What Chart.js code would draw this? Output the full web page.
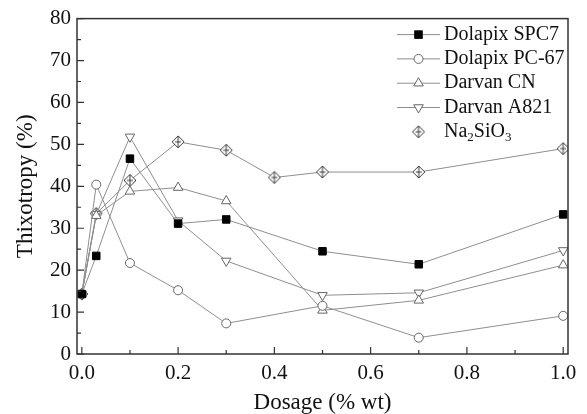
<!DOCTYPE html>
<html>
<head>
<meta charset="utf-8">
<script src="https://cdn.jsdelivr.net/npm/chart.js@4.4.1/dist/chart.umd.min.js"></script>
<style>
  html, body { margin: 0; padding: 0; background: #fff; }
  #wrap { width: 587px; height: 414px; }
</style>
</head>
<body>
<div id="wrap"><canvas id="thixoChart" width="587" height="414"></canvas></div>
<script>
// dosage (% wt) and thixotropy (%) per dispersant
const dosage = [0, 0.03, 0.1, 0.2, 0.3, 0.5, 0.7, 1.0];
const dosageNa = [0, 0.03, 0.1, 0.2, 0.3, 0.4, 0.5, 0.7, 1.0];
const spc7 = [14.3, 23.4, 46.6, 31.1, 32.1, 24.5, 21.4, 33.3];
const pc67 = [14.3, 40.4, 21.7, 15.2, 7.3, 11.5, 3.9, 9.1];
const darvanCN = [14.3, 33.0, 38.8, 39.7, 36.5, 10.4, 12.8, 21.2];
const darvanA821 = [14.3, 33.3, 51.8, 31.8, 22.2, 14.0, 14.6, 24.7];
const na2sio3 = [14.3, 33.5, 41.4, 50.6, 48.6, 42.1, 43.4, 43.4, 49.0];

const seriesNames = ["Dolapix SPC7", "Dolapix PC-67", "Darvan CN", "Darvan A821", "Na2SiO3"];
const xTicks = [0, 0.2, 0.4, 0.6, 0.8, 1.0];
const yTicks = [0, 10, 20, 30, 40, 50, 60, 70, 80];

const SERIF = "'Liberation Serif', 'Times New Roman', serif";
const LINE = "#8e8e8e";

// diamond with a cross inside, used for the sodium silicate points
function diamondCross(size, color) {
  const c = document.createElement("canvas");
  c.width = size; c.height = size;
  const g = c.getContext("2d");
  const m = size / 2, r = size / 2 - 1;
  g.strokeStyle = color;
  g.lineWidth = 1;
  g.fillStyle = "#fff";
  g.beginPath();
  g.moveTo(m, m - r); g.lineTo(m + r, m); g.lineTo(m, m + r); g.lineTo(m - r, m);
  g.closePath();
  g.fill(); g.stroke();
  g.beginPath();
  g.moveTo(m, m - r); g.lineTo(m, m + r);
  g.moveTo(m - r * 0.5, m); g.lineTo(m + r * 0.5, m);
  g.stroke();
  return c;
}
const naMarker = diamondCross(14, "#3a3a3a");

function toPoints(xs, ys) {
  return xs.map((x, i) => ({ x: x, y: ys[i] }));
}

const datasets = [
  { label: seriesNames[0], data: toPoints(dosage, spc7), borderColor: LINE, borderWidth: 1,
    pointStyle: "rect", pointRadius: 5.3, pointBackgroundColor: "#000", pointBorderColor: "#000", pointBorderWidth: 1 },
  { label: seriesNames[1], data: toPoints(dosage, pc67), borderColor: LINE, borderWidth: 1,
    pointStyle: "circle", pointRadius: 4.5, pointBackgroundColor: "#fff", pointBorderColor: "#666", pointBorderWidth: 1 },
  { label: seriesNames[2], data: toPoints(dosage, darvanCN), borderColor: LINE, borderWidth: 1,
    pointStyle: "triangle", pointRadius: 5.5, pointBackgroundColor: "#fff", pointBorderColor: "#666", pointBorderWidth: 1 },
  { label: seriesNames[3], data: toPoints(dosage, darvanA821), borderColor: LINE, borderWidth: 1,
    pointStyle: "triangle", pointRotation: 180, pointRadius: 5.5, pointBackgroundColor: "#fff", pointBorderColor: "#666", pointBorderWidth: 1 },
  { label: seriesNames[4], data: toPoints(dosageNa, na2sio3), borderColor: LINE, borderWidth: 1,
    pointStyle: naMarker, pointRadius: 6 }
];

// small marker drawer for the legend
function drawMarker(ctx, ds, x, y) {
  ctx.save();
  ctx.lineWidth = 1;
  ctx.fillStyle = ds.pointBackgroundColor || "#fff";
  ctx.strokeStyle = ds.pointBorderColor || "#666";
  const r = ds.pointRadius;
  if (ds.pointStyle === "rect") {
    const s = r * Math.SQRT1_2;
    ctx.fillRect(x - s, y - s, 2 * s, 2 * s);
    ctx.strokeRect(x - s, y - s, 2 * s, 2 * s);
  } else if (ds.pointStyle === "circle") {
    ctx.beginPath(); ctx.arc(x, y, r, 0, Math.PI * 2); ctx.fill(); ctx.stroke();
  } else if (ds.pointStyle === "triangle") {
    const dir = ds.pointRotation === 180 ? -1 : 1;
    ctx.beginPath();
    ctx.moveTo(x, y - dir * r);
    ctx.lineTo(x + r * Math.sin(Math.PI * 2 / 3), y - dir * r * Math.cos(Math.PI * 2 / 3));
    ctx.lineTo(x - r * Math.sin(Math.PI * 2 / 3), y - dir * r * Math.cos(Math.PI * 2 / 3));
    ctx.closePath(); ctx.fill(); ctx.stroke();
  } else {
    const img = ds.pointStyle;
    ctx.drawImage(img, x - img.width / 2, y - img.height / 2);
  }
  ctx.restore();
}

// text with digits after "Na" and "O" set as subscripts
function drawLabel(ctx, text, x, y) {
  const parts = text === "Na2SiO3" ? [["Na", 0], ["2", 1], ["SiO", 0], ["3", 1]] : [[text, 0]];
  let cx = x;
  parts.forEach(([t, sub]) => {
    ctx.font = (sub ? "13px " : "20px ") + SERIF;
    ctx.fillText(t, cx, sub ? y + 6 : y);
    cx += ctx.measureText(t).width;
  });
}

const framePlugin = {
  id: "frame",
  afterDraw(chart) {
    const { ctx, chartArea: a, scales } = chart;
    ctx.save();
    ctx.strokeStyle = "#333";
    ctx.lineWidth = 1.5;
    ctx.strokeRect(a.left, a.top, a.right - a.left, a.bottom - a.top);

    // inward ticks, major and minor
    ctx.lineWidth = 1.2;
    ctx.beginPath();
    yTicks.forEach((v, i) => {
      const py = scales.y.getPixelForValue(v);
      ctx.moveTo(a.left, py); ctx.lineTo(a.left + 7, py);
      if (i < yTicks.length - 1) {
        const pm = scales.y.getPixelForValue(v + 5);
        ctx.moveTo(a.left, pm); ctx.lineTo(a.left + 4, pm);
      }
    });
    xTicks.forEach((v, i) => {
      const px = scales.x.getPixelForValue(v);
      ctx.moveTo(px, a.bottom); ctx.lineTo(px, a.bottom - 7);
      if (i < xTicks.length - 1) {
        const pm = scales.x.getPixelForValue(v + 0.1);
        ctx.moveTo(pm, a.bottom); ctx.lineTo(pm, a.bottom - 4);
      }
    });
    ctx.stroke();

    // legend, top right inside the plot
    ctx.textBaseline = "middle";
    ctx.fillStyle = "#111";
    chart.data.datasets.forEach((ds, i) => {
      const y = a.top + 16 + i * 24.3;
      const x0 = a.right - 171, x1 = a.right - 128;
      if (i < 4) {
        ctx.strokeStyle = ds.borderColor;
        ctx.lineWidth = 1;
        ctx.beginPath(); ctx.moveTo(x0, y); ctx.lineTo(x1, y); ctx.stroke();
      }
      drawMarker(ctx, ds, (x0 + x1) / 2, y);
      ctx.fillStyle = "#111";
      drawLabel(ctx, ds.label, x1 + 4, y);
    });
    ctx.restore();
  }
};

new Chart(document.getElementById("thixoChart"), {
  type: "line",
  data: { datasets: datasets },
  options: {
    responsive: false,
    animation: false,
    layout: { padding: { left: 0, right: 19, top: 18, bottom: 0 } },
    plugins: { legend: { display: false }, tooltip: { enabled: false } },
    scales: {
      x: {
        type: "linear",
        min: -0.01,
        max: 1.01,
        afterBuildTicks: s => { s.ticks = xTicks.map(v => ({ value: v })); },
        afterFit: s => { s.height = 60; },
        grid: { display: false, drawTicks: false },
        border: { display: false },
        ticks: {
          padding: 7,
          color: "#111",
          font: { family: SERIF, size: 21 },
          callback: v => Number(v).toFixed(1)
        },
        title: {
          display: true,
          text: "Dosage (% wt)",
          color: "#111",
          font: { family: SERIF, size: 23 },
          padding: { top: 4, bottom: -3 }
        }
      },
      y: {
        min: 0,
        max: 80,
        afterBuildTicks: s => { s.ticks = yTicks.map(v => ({ value: v })); },
        afterFit: s => { s.width = 77; },
        grid: { display: false, drawTicks: false },
        border: { display: false },
        ticks: {
          padding: 6,
          color: "#111",
          font: { family: SERIF, size: 21 }
        },
        title: {
          display: true,
          text: "Thixotropy (%)",
          color: "#111",
          font: { family: SERIF, size: 23 },
          padding: { top: 12, bottom: 0 }
        }
      }
    }
  },
  plugins: [framePlugin]
});
</script>
</body>
</html>
